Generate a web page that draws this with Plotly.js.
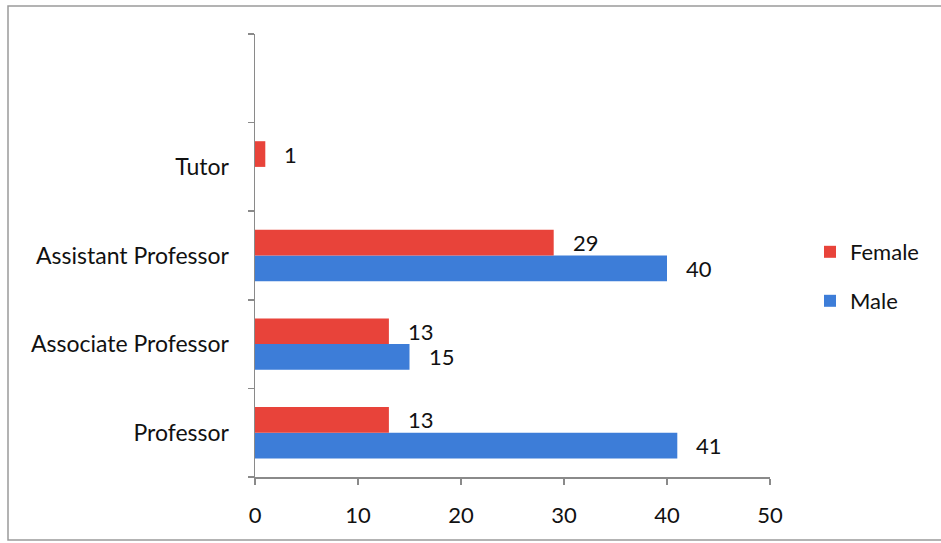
<!DOCTYPE html>
<html>
<head>
<meta charset="utf-8">
<script src="https://cdn.plot.ly/plotly-3.0.1.min.js"></script>
<style>html,body{margin:0;padding:0;background:#fff;}#chart{width:941px;height:543px;}</style>
</head>
<body>
<div id="chart"></div>
<script>
const categories = ['Professor', 'Associate Professor', 'Assistant Professor', 'Tutor', '\u00a0'];
const femaleValues = [13, 13, 29, 1, null];
const maleValues = [41, 15, 40, null, null];
const xTicks = [0, 10, 20, 30, 40, 50];

const FONT = 'Lato, "Open Sans", sans-serif';
const red = '#E8433A';
const blue = '#3D7DD8';

const male = {
  type: 'bar', orientation: 'h', name: 'Male',
  y: categories, x: maleValues,
  marker: {color: blue}, legend: 'legend2', hoverinfo: 'x'
};
const female = {
  type: 'bar', orientation: 'h', name: 'Female',
  y: categories, x: femaleValues,
  marker: {color: red}, legend: 'legend', hoverinfo: 'x'
};

const annotations = [];
function addLabels(vals, shift) {
  vals.forEach((v, i) => {
    if (v === null || v === undefined) return;
    annotations.push({
      x: v, y: categories[i], xref: 'x', yref: 'y',
      text: String(v), showarrow: false, xanchor: 'left', yanchor: 'middle',
      xshift: 17, yshift: shift,
      font: {family: FONT, size: 22, color: '#111'}
    });
  });
}
addLabels(femaleValues, 12.8);
addLabels(maleValues, -12.8);

const legendBase = {
  xref: 'container', yref: 'container', xanchor: 'left', yanchor: 'middle',
  x: 810 / 941,
  font: {family: FONT, size: 22, color: '#111'},
  itemwidth: 30, bgcolor: 'rgba(0,0,0,0)', borderwidth: 0
};

const layout = {
  width: 941, height: 543,
  margin: {l: 255, r: 171, t: 34, b: 66},
  paper_bgcolor: '#fff', plot_bgcolor: '#fff',
  barmode: 'group', bargap: 0.42, bargroupgap: 0,
  font: {family: FONT, size: 22, color: '#111'},
  showlegend: true,
  xaxis: {
    range: [0, 50], tickvals: xTicks, ticktext: xTicks.map(String),
    showgrid: false, zeroline: false, automargin: false,
    showline: true, linecolor: '#8a8a8a', linewidth: 1.5,
    ticks: 'outside', ticklen: 6, tickcolor: '#8a8a8a', tickwidth: 1.5,
    ticklabelstandoff: 12,
    tickfont: {family: FONT, size: 22, color: '#111'}, fixedrange: true
  },
  yaxis: {
    type: 'category', categoryorder: 'array', categoryarray: categories,
    range: [-0.5, 4.5], tickson: 'boundaries', automargin: false,
    showgrid: false, zeroline: false,
    showline: true, linecolor: '#8a8a8a', linewidth: 1.5,
    ticks: 'outside', ticklen: 6, tickcolor: '#8a8a8a', tickwidth: 1.5,
    tickfont: {family: FONT, size: 23, color: '#111'}, ticklabelstandoff: 20,
    fixedrange: true
  },
  legend: Object.assign({}, legendBase, {y: 1 - 252 / 543}),
  legend2: Object.assign({}, legendBase, {y: 1 - 301 / 543}),
  annotations: annotations,
  shapes: [{
    type: 'rect', xref: 'paper', yref: 'paper',
    x0: (8 - 255) / 515, x1: (960 - 255) / 515,
    y0: (477 - 540) / 443, y1: (477 - 6) / 443,
    line: {color: '#9a9a9a', width: 1.5}, fillcolor: 'rgba(0,0,0,0)', layer: 'below'
  }]
};

Plotly.newPlot('chart', [male, female], layout, {displayModeBar: false, staticPlot: true});
</script>
</body>
</html>
